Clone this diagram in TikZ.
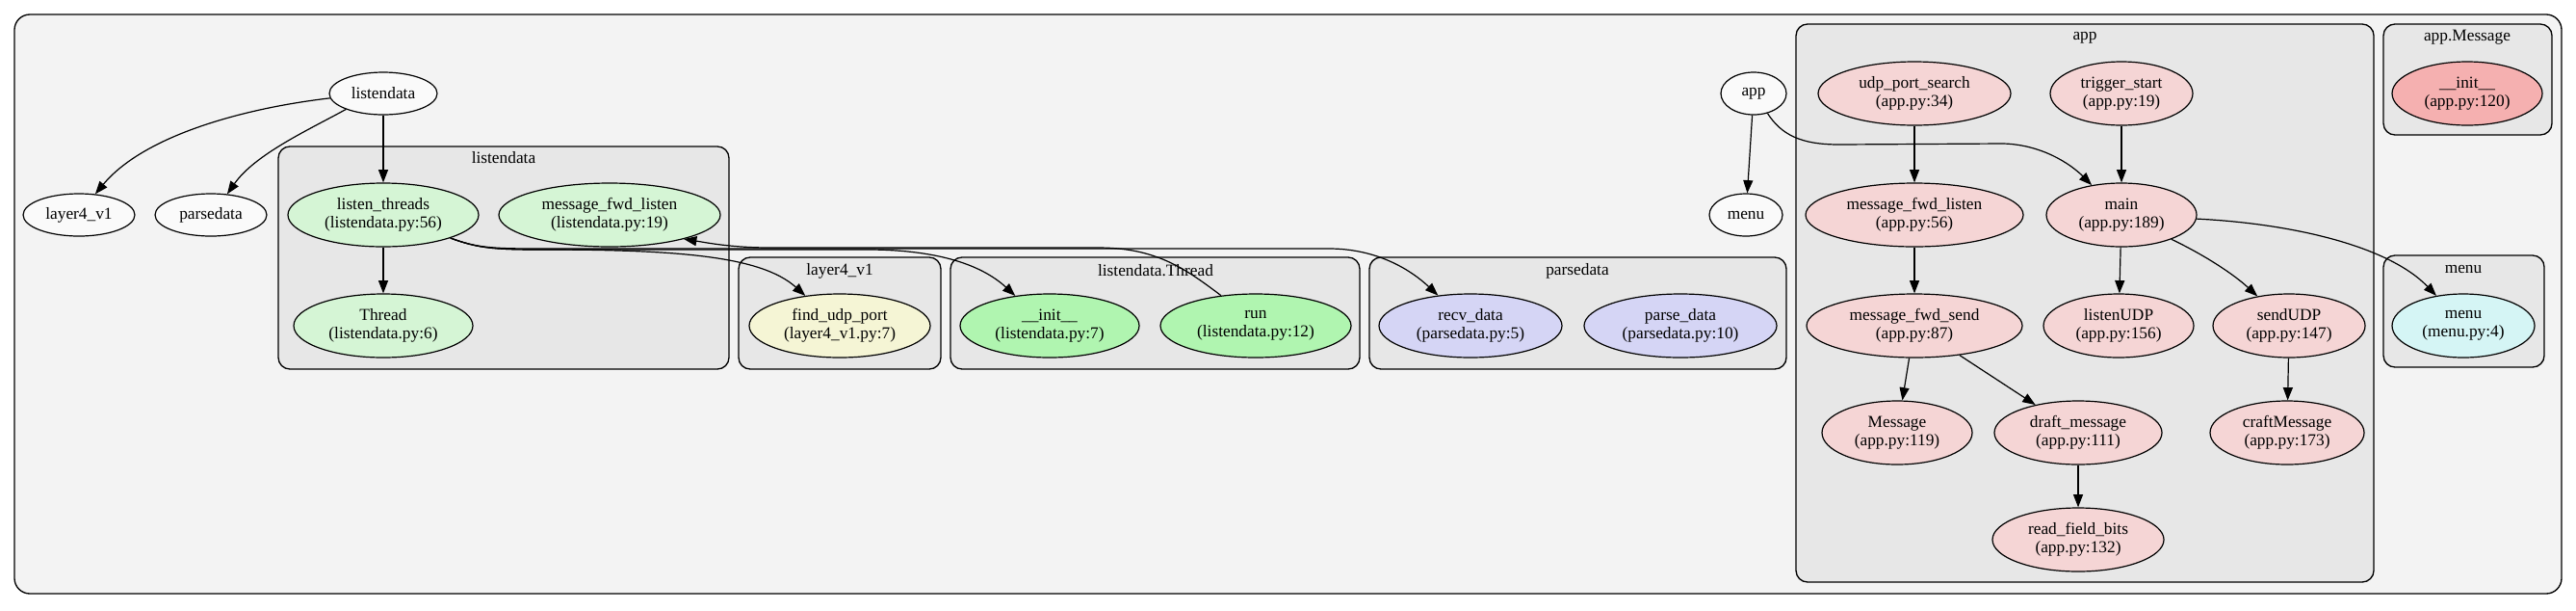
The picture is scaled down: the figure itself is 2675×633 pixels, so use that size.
\documentclass[tikz,border=0pt]{standalone}
\usepackage{fontspec}
\setmainfont{Liberation Serif}
\usetikzlibrary{shapes.geometric,arrows.meta}
\definecolor{bgOuter}{HTML}{F3F3F3}
\definecolor{bgClus}{HTML}{E7E7E7}
\definecolor{cTop}{HTML}{FAFAFA}
\definecolor{cLd}{HTML}{D5F5D5}
\definecolor{cThr}{HTML}{B0F5B0}
\definecolor{cLf}{HTML}{F5F5D5}
\definecolor{cPs}{HTML}{D5D5F5}
\definecolor{cApp}{HTML}{F5D5D5}
\definecolor{cMsg}{HTML}{F5B0B0}
\definecolor{cMenu}{HTML}{D5F5F5}
\newcommand\gvfont{\fontsize{13pt}{14.5pt}\selectfont}
\tikzset{
  gnode/.style={ellipse, draw=black, line width=0.9pt, inner sep=-30pt, align=center, font=\gvfont},
  ell/.style 2 args={minimum width={1.5pt*#1}, minimum height={1.5pt*#2}},
  clus/.style={draw=black, line width=1pt, fill=bgClus, rounded corners=9pt},
  clab/.style={font=\gvfont, inner sep=0pt},
  conn/.style={draw=black, line width=0.9pt, -{Triangle[length=10pt,width=7.5pt]}},
}
\begin{document}
\begin{tikzpicture}[x=0.75pt, y=-0.75pt]
\useasboundingbox (0,0) rectangle (2675,633);
\fill[white] (0,0) rectangle (2675,633);
% outer cluster
\draw[line width=1pt, fill=bgOuter, rounded corners=12pt] (15,15) rectangle (2660,616);
% sub clusters
\draw[clus] (289,152) rectangle (757,383);
\node[clab] (lbLd) at (523,164) {listendata};
\draw[clus] (767,267) rectangle (977,383);
\node[clab] (lbLf) at (872,281) {layer4\_v1};
\draw[clus] (987,267) rectangle (1412,383);
\node[clab] (lbThr) at (1200,281) {listendata.Thread};
\draw[clus] (1422,267) rectangle (1855,383);
\node[clab] (lbPs) at (1638,281) {parsedata};
\draw[clus] (1865,25) rectangle (2465,604);
\node[clab] (lbApp) at (2165,39) {app};
\draw[clus] (2475,25) rectangle (2650,140);
\node[clab] (lbMsg) at (2562,39) {app.Message};
\draw[clus] (2475,265) rectangle (2642,381);
\node[clab] (lbMenu) at (2558,279) {menu};
% top level nodes
\node[gnode, ell={56}{22}, fill=cTop] (ld) at (398,97) {listendata};
\node[gnode, ell={58}{22}, fill=cTop] (l4) at (82,223) {layer4\_v1};
\node[gnode, ell={58}{22}, fill=cTop] (ps) at (219,223) {parsedata};
\node[gnode, ell={34}{22}, fill=cTop] (ap) at (1821,97) {app};
\node[gnode, ell={38}{22}, fill=cTop] (mn) at (1813,223) {menu};
% listendata
\node[gnode, ell={99}{33}, fill=cLd] (lt) at (398,223) {listen\_threads\\(listendata.py:56)};
\node[gnode, ell={115}{33}, fill=cLd] (mfl) at (633,223) {message\_fwd\_listen\\(listendata.py:19)};
\node[gnode, ell={93}{33}, fill=cLd] (th) at (398,338) {Thread\\(listendata.py:6)};
% layer4_v1
\node[gnode, ell={94}{33}, fill=cLf] (fu) at (872,338) {find\_udp\_port\\(layer4\_v1.py:7)};
% listendata.Thread
\node[gnode, ell={93}{33}, fill=cThr] (ti) at (1090,338) {\_\_init\_\_\\(listendata.py:7)};
\node[gnode, ell={99}{33}, fill=cThr] (rn) at (1304,338) {run\\(listendata.py:12)};
% parsedata
\node[gnode, ell={95}{33}, fill=cPs] (rc) at (1527,338) {recv\_data\\(parsedata.py:5)};
\node[gnode, ell={100}{33}, fill=cPs] (pd) at (1745,338) {parse\_data\\(parsedata.py:10)};
% app
\node[gnode, ell={100}{33}, fill=cApp] (ups) at (1988,97) {udp\_port\_search\\(app.py:34)};
\node[gnode, ell={74}{33}, fill=cApp] (ts) at (2203,97) {trigger\_start\\(app.py:19)};
\node[gnode, ell={113}{33}, fill=cApp] (mfla) at (1988,223) {message\_fwd\_listen\\(app.py:56)};
\node[gnode, ell={78}{33}, fill=cApp] (mainn) at (2203,223) {main\\(app.py:189)};
\node[gnode, ell={112}{33}, fill=cApp] (mfs) at (1988,338) {message\_fwd\_send\\(app.py:87)};
\node[gnode, ell={78}{33}, fill=cApp] (lu) at (2200,338) {listenUDP\\(app.py:156)};
\node[gnode, ell={79}{33}, fill=cApp] (su) at (2377,338) {sendUDP\\(app.py:147)};
\node[gnode, ell={78}{33}, fill=cApp] (msg) at (1970,449) {Message\\(app.py:119)};
\node[gnode, ell={87}{33}, fill=cApp] (dm) at (2158,449) {draft\_message\\(app.py:111)};
\node[gnode, ell={80}{33}, fill=cApp] (cm) at (2375,449) {craftMessage\\(app.py:173)};
\node[gnode, ell={89}{33}, fill=cApp] (rfb) at (2158,560) {read\_field\_bits\\(app.py:132)};
% app.Message
\node[gnode, ell={78}{33}, fill=cMsg] (mi) at (2562,97) {\_\_init\_\_\\(app.py:120)};
% menu
\node[gnode, ell={74}{33}, fill=cMenu] (mnu) at (2558,338) {menu\\(menu.py:4)};
% edges
\draw[conn] (ld.185) .. controls (255,112) and (150,140) .. (l4.52);
\draw[conn] (ld.203) .. controls (320,135) and (265,160) .. (ps.52);
\draw[conn] (ld) -- (lt);
\draw[conn] (lt) -- (th);
\draw[conn] (lt.341) .. controls (495,257) and (510,259) .. (560,259) .. controls (700,259) and (790,265) .. (fu.139);
\draw[conn] (lt.341) .. controls (495,257) and (510,259) .. (560,259) -- (900,259) .. controls (985,259) and (1025,280) .. (ti.139);
\draw[conn] (lt.341) .. controls (495,257) and (510,258) .. (560,258) -- (1380,258) .. controls (1430,258) and (1465,280) .. (rc.137);
\draw[conn] (rn.139) .. controls (1230,278) and (1200,257) .. (1140,257) -- (800,257) .. controls (760,257) and (735,252) .. (mfl.342);
\draw[conn] (ap) -- (mn);
\draw[conn] (ap.-55) .. controls (1850,140) and (1870,150) .. (1910,150) -- (2080,149) .. controls (2120,150) and (2150,170) .. (mainn.135);
\draw[conn] (ups) -- (mfla);
\draw[conn] (ts) -- (mainn);
\draw[conn] (mfla) -- (mfs);
\draw[conn] (mainn) -- (lu);
\draw[conn] (mainn.334) .. controls (2290,265) and (2320,285) .. (su.137);
\draw[conn] (mainn.357) .. controls (2380,232) and (2480,255) .. (mnu.132);
\draw[conn] (su) -- (cm);
\draw[conn] (mfs) -- (msg);
\draw[conn] (mfs) -- (dm);
\draw[conn] (dm) -- (rfb);
\end{tikzpicture}
\end{document}
